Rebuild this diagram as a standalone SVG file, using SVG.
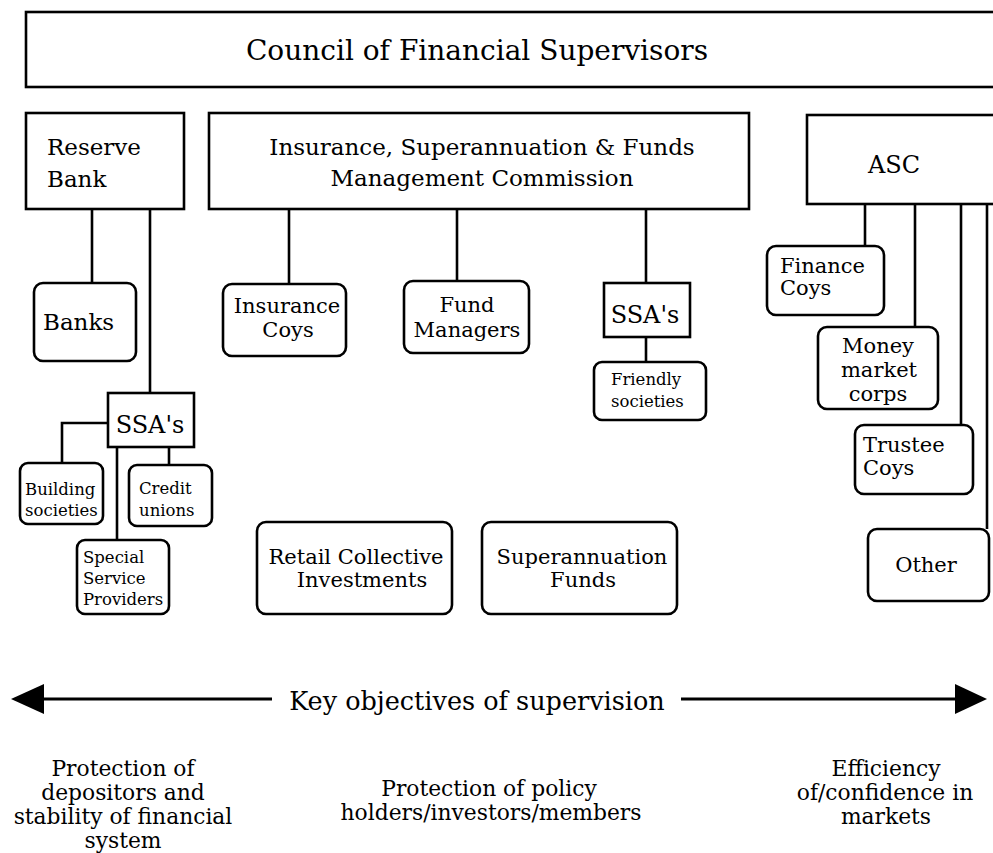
<svg xmlns="http://www.w3.org/2000/svg" width="993" height="853" viewBox="0 0 993 853">
  <style>
    .box { fill: #fff; stroke: #000; stroke-width: 2.6; }
    .wire { fill: none; stroke: #000; stroke-width: 2.6; }
    text { font-family: "DejaVu Serif", "Liberation Serif", serif; fill: #000; }
    .t28 { font-size: 28px; }
    .t26 { font-size: 25.5px; }
    .t24 { font-size: 24px; }
    .t23 { font-size: 23px; }
    .t22 { font-size: 21.8px; }
    .t21 { font-size: 21px; }
    .t16 { font-size: 16.5px; }
    .mid { text-anchor: middle; }
  </style>
  <rect width="993" height="853" fill="#fff"/>

  <!-- connectors -->
  <g id="connectors" class="wire">
    <line x1="92" y1="209" x2="92" y2="283"/>
    <line x1="150" y1="209" x2="150" y2="393"/>
    <polyline points="108,423 62,423 62,463"/>
    <line x1="169" y1="447" x2="169" y2="465"/>
    <line x1="117" y1="447" x2="117" y2="540"/>
    <line x1="289" y1="209" x2="289" y2="284"/>
    <line x1="457" y1="209" x2="457" y2="281"/>
    <line x1="646" y1="209" x2="646" y2="283"/>
    <line x1="646" y1="337" x2="646" y2="362"/>
    <line x1="865" y1="204" x2="865" y2="246"/>
    <line x1="915" y1="204" x2="915" y2="327"/>
    <line x1="961" y1="204" x2="961" y2="425"/>
    <line x1="987" y1="204" x2="987" y2="529"/>
  </g>

  <g id="council">
    <rect class="box" x="26" y="12" width="975" height="75"/>
    <text class="t28 mid" x="477" y="60">Council of Financial Supervisors</text>
  </g>

  <g id="reserve-bank">
    <rect class="box" x="26" y="113" width="158" height="96"/>
    <text class="t23" x="47" y="155">Reserve</text>
    <text class="t23" x="47" y="187">Bank</text>
  </g>

  <g id="isfmc">
    <rect class="box" x="209" y="113" width="540" height="96"/>
    <text class="t23 mid" x="482" y="155">Insurance, Superannuation &amp; Funds</text>
    <text class="t23 mid" x="482" y="186">Management Commission</text>
  </g>

  <g id="asc">
    <rect class="box" x="807" y="115" width="200" height="89"/>
    <text class="t24 mid" x="894" y="173">ASC</text>
  </g>

  <g id="banks">
    <rect class="box" x="34" y="283" width="102" height="78" rx="9"/>
    <text class="t23" x="43" y="330">Banks</text>
  </g>

  <g id="ssa-rb">
    <rect class="box" x="108" y="393" width="86" height="54"/>
    <text class="t24 mid" x="150" y="433">SSA's</text>
  </g>

  <g id="building-societies">
    <rect class="box" x="20" y="463" width="83" height="61" rx="8"/>
    <text class="t16" x="25" y="495">Building</text>
    <text class="t16" x="25" y="516">societies</text>
  </g>

  <g id="credit-unions">
    <rect class="box" x="129" y="465" width="83" height="61" rx="8"/>
    <text class="t16" x="139" y="494">Credit</text>
    <text class="t16" x="139" y="516">unions</text>
  </g>

  <g id="special-service-providers">
    <rect class="box" x="77" y="540" width="92" height="74" rx="8"/>
    <text class="t16" x="83" y="563">Special</text>
    <text class="t16" x="83" y="584">Service</text>
    <text class="t16" x="83" y="605">Providers</text>
  </g>

  <g id="insurance-coys">
    <rect class="box" x="223" y="284" width="123" height="72" rx="9"/>
    <text class="t21 mid" x="287" y="313">Insurance</text>
    <text class="t21 mid" x="288" y="337">Coys</text>
  </g>

  <g id="fund-managers">
    <rect class="box" x="404" y="281" width="125" height="72" rx="9"/>
    <text class="t21 mid" x="467" y="312">Fund</text>
    <text class="t21 mid" x="467" y="337">Managers</text>
  </g>

  <g id="ssa-isfmc">
    <rect class="box" x="604" y="283" width="86" height="54"/>
    <text class="t24 mid" x="645" y="323">SSA's</text>
  </g>

  <g id="friendly-societies">
    <rect class="box" x="594" y="362" width="112" height="58" rx="8"/>
    <text class="t16" x="611" y="385">Friendly</text>
    <text class="t16" x="611" y="407">societies</text>
  </g>

  <g id="retail-collective-investments">
    <rect class="box" x="257" y="522" width="195" height="92" rx="9"/>
    <text class="t21 mid" x="356" y="564">Retail Collective</text>
    <text class="t21 mid" x="362" y="587">Investments</text>
  </g>

  <g id="superannuation-funds">
    <rect class="box" x="482" y="522" width="195" height="92" rx="9"/>
    <text class="t21 mid" x="582" y="564">Superannuation</text>
    <text class="t21 mid" x="583" y="587">Funds</text>
  </g>

  <g id="finance-coys">
    <rect class="box" x="767" y="246" width="117" height="69" rx="9"/>
    <text class="t21" x="780" y="273">Finance</text>
    <text class="t21" x="780" y="295">Coys</text>
  </g>

  <g id="money-market-corps">
    <rect class="box" x="818" y="327" width="120" height="82" rx="9"/>
    <text class="t21 mid" x="878" y="353">Money</text>
    <text class="t21 mid" x="879" y="377">market</text>
    <text class="t21 mid" x="878" y="401">corps</text>
  </g>

  <g id="trustee-coys">
    <rect class="box" x="855" y="425" width="118" height="69" rx="9"/>
    <text class="t21" x="863" y="452">Trustee</text>
    <text class="t21" x="863" y="475">Coys</text>
  </g>

  <g id="other">
    <rect class="box" x="868" y="529" width="121" height="72" rx="9"/>
    <text class="t21 mid" x="926" y="572">Other</text>
  </g>

  <!-- objectives axis: double-headed arrow broken by its caption -->
  <g id="objectives-axis">
    <line x1="44" y1="699" x2="272" y2="699" stroke="#000" stroke-width="3"/>
    <line x1="681" y1="699" x2="955" y2="699" stroke="#000" stroke-width="3"/>
    <polygon points="11,699 44,684 44,714" fill="#000"/>
    <polygon points="987,699 955,684 955,714" fill="#000"/>
    <text class="t26 mid" x="477" y="710">Key objectives of supervision</text>
  </g>

  <g id="objective-left">
    <text class="t22 mid" x="123" y="776">Protection of</text>
    <text class="t22 mid" x="123" y="800">depositors and</text>
    <text class="t22 mid" x="123" y="824">stability of financial</text>
    <text class="t22 mid" x="123" y="848">system</text>
  </g>

  <g id="objective-middle">
    <text class="t22 mid" x="489" y="796">Protection of policy</text>
    <text class="t22 mid" x="491" y="820">holders/investors/members</text>
  </g>

  <g id="objective-right">
    <text class="t22 mid" x="886" y="776">Efficiency</text>
    <text class="t22 mid" x="885" y="800">of/confidence in</text>
    <text class="t22 mid" x="886" y="824">markets</text>
  </g>
</svg>
